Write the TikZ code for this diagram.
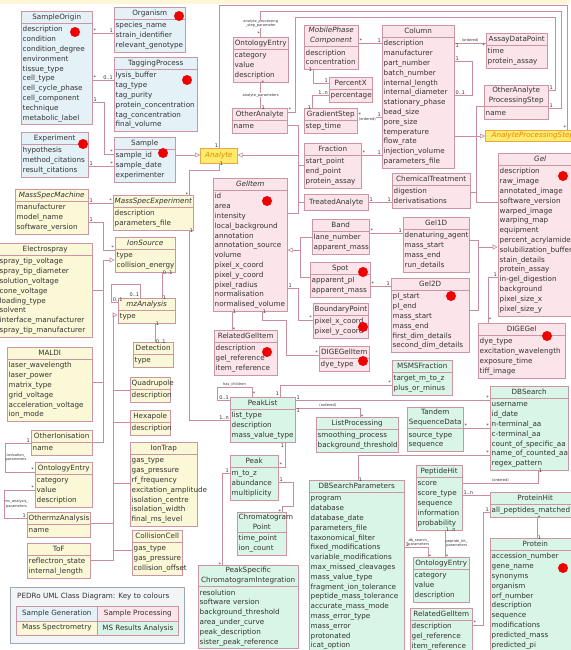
\documentclass[tikz,border=0pt]{standalone}
\usepackage{fontspec}
\setmainfont{DejaVu Sans}
\usetikzlibrary{arrows.meta,fit,backgrounds,positioning}

\definecolor{sgfill}{HTML}{E4F1F7}
\definecolor{spfill}{HTML}{FBE5EA}
\definecolor{msfill}{HTML}{FAF8D6}
\definecolor{mrfill}{HTML}{D9F5E7}
\definecolor{clsline}{HTML}{CB95A3}
\definecolor{linec}{HTML}{C98D9E}
\definecolor{textc}{HTML}{333333}
\definecolor{absfill}{HTML}{FFEB6E}
\definecolor{absline}{HTML}{EBA64A}
\definecolor{abstext}{HTML}{E58A00}
\definecolor{topband}{HTML}{FDF7D5}
\definecolor{keyfill}{HTML}{F2F4F6}
\definecolor{keyline}{HTML}{9CA9B5}
\definecolor{dotred}{HTML}{F00000}

\newcommand\clsfont{\fontsize{7.2}{9.8}\selectfont\hyphenpenalty=10000\relax}
\newcommand\multfont{\fontsize{5}{5.5}\selectfont}
\newcommand\rolefont{\fontsize{3.6}{4.1}\selectfont}

% #1 name, #2 colour style, #3 x, #4 y, #5 width, #6 title, #7 attributes
\newcommand\umlclass[7]{%
  \pgfmathsetmacro\clswidth{#5-3}%
  \node[clstitle, text width=\clswidth pt, anchor=north west] (#1-t) at (#3,#4) {#6};
  \node[clsattr, text width=\clswidth pt, anchor=north west] (#1-a) at (#1-t.south west)
    {\rule{0pt}{6.5pt}#7\rule[-2.8pt]{0pt}{0pt}};
  \begin{pgfonlayer}{background}
    \node[#2, fit=(#1-t)(#1-a)] (#1) {};
  \end{pgfonlayer}
  \draw[#2, fill=none] (#1-t.south west) -- (#1-t.south east);
}

\begin{document}
\begin{tikzpicture}[x=1pt,y=-1pt,
  cls/.style={draw=clsline,line width=0.6pt,inner sep=0pt},
  sg/.style={cls,fill=sgfill},
  sp/.style={cls,fill=spfill},
  ms/.style={cls,fill=msfill},
  mr/.style={cls,fill=mrfill},
  clstitle/.style={inner xsep=1.5pt,inner ysep=2.2pt,minimum height=12pt,align=center,font=\clsfont,text=textc},
  clsattr/.style={inner xsep=1.5pt,inner ysep=1.75pt,align=left,font=\clsfont,text=textc},
  abstract/.style={draw=absline,fill=absfill,line width=0.7pt,font=\clsfont\itshape,text=abstext,inner sep=1pt,anchor=north west},
  assoc/.style={draw=linec,line width=0.6pt},
  gen/.style={assoc,-{Triangle[open,length=5pt,width=5pt]}},
  mult/.style={font=\multfont,text=textc,inner sep=0.6pt},
  role/.style={font=\rolefont,text=textc,align=center,inner sep=0.4pt,fill=white},
  keycell/.style={draw=clsline,line width=0.6pt,minimum width=81pt,minimum height=14.5pt,anchor=north west,font=\clsfont,text=textc,inner sep=0pt},
  reddot/.style={fill=dotred}]

  \useasboundingbox (0,0) rectangle (570,650);
  \begin{pgfonlayer}{background}
    \fill[white] (0,0) rectangle (570,650);
    \fill[topband] (0,0) rectangle (570,4);
  \end{pgfonlayer}

  % sample generation
  \umlclass{SampleOrigin}{sg}{21}{11}{71}{SampleOrigin}{description\\condition\\condition\_degree\\environment\\tissue\_type\\cell\_type\\cell\_cycle\_phase\\cell\_component\\technique\\metabolic\_label}
  \umlclass{Organism}{sg}{114}{7}{71}{Organism}{species\_name\\strain\_identifier\\relevant\_genotype}
  \umlclass{TaggingProcess}{sg}{114}{57}{83}{TaggingProcess}{lysis\_buffer\\tag\_type\\tag\_purity\\protein\_concentration\\tag\_concentration\\final\_volume}
  \umlclass{Experiment}{sg}{21}{132}{67}{Experiment}{hypothesis\\method\_citations\\result\_citations}
  \umlclass{Sample}{sg}{114}{137}{61}{Sample}{sample\_id\\sample\_date\\experimenter}

  % sample processing
  \node[abstract, minimum width=37pt, minimum height=15pt] (Analyte) at (200,148) {Analyte};
  \node[abstract, minimum width=95pt, minimum height=11pt] (ProcessingStep) at (485,130) {AnalyteProcessingStep};
  \umlclass{OntoAnalyte}{sp}{233}{37}{55}{OntologyEntry}{category\\value\\description}
  \umlclass{OtherAnalyte}{sp}{232}{108}{55}{OtherAnalyte}{name}
  \umlclass{MobilePhase}{sp}{304}{25}{54}{\textit{MobilePhase}\\\textit{Component}}{description\\concentration}
  \umlclass{PercentX}{sp}{329}{77}{43}{PercentX}{percentage}
  \umlclass{GradientStep}{sp}{304}{108}{53}{GradientStep}{step\_time}
  \umlclass{Fraction}{sp}{304}{143}{57}{Fraction}{start\_point\\end\_point\\protein\_assay}
  \node[sp, minimum width=64pt, minimum height=16pt, anchor=north west, font=\clsfont, text=textc] (TreatedAnalyte) at (304,194) {TreatedAnalyte};
  \umlclass{Column}{sp}{382}{25}{72}{Column}{description\\manufacturer\\part\_number\\batch\_number\\internal\_length\\internal\_diameter\\stationary\_phase\\bead\_size\\pore\_size\\temperature\\flow\_rate\\injection\_volume\\parameters\_file}
  \umlclass{AssayPoint}{sp}{486}{33}{61}{AssayDataPoint}{time\\protein\_assay}
  \umlclass{OtherStep}{sp}{484}{85}{64}{OtherAnalyte\\ProcessingStep}{name}
  \umlclass{ChemTreatment}{sp}{392}{173}{78}{ChemicalTreatment}{digestion\\derivatisations}
  \umlclass{GelItem}{sp}{213}{178}{74}{\textit{GelItem}}{id\\area\\intensity\\local\_background\\annotation\\annotation\_source\\volume\\pixel\_x\_coord\\pixel\_y\_coord\\pixel\_radius\\normalisation\\normalised\_volume}
  \umlclass{Band}{sp}{312}{219}{57}{Band}{lane\_number\\apparent\_mass}
  \umlclass{Spot}{sp}{310}{262}{60}{Spot}{apparent\_pI\\apparent\_mass}
  \umlclass{BoundaryPoint}{sp}{313}{303}{55}{BoundaryPoint}{pixel\_x\_coord\\pixel\_y\_coord}
  \umlclass{GelOneD}{sp}{403}{217}{66}{Gel1D}{denaturing\_agent\\mass\_start\\mass\_end\\run\_details}
  \umlclass{GelTwoD}{sp}{391}{278}{78}{Gel2D}{pI\_start\\pI\_end\\mass\_start\\mass\_end\\first\_dim\_details\\second\_dim\_details}
  \umlclass{Gel}{sp}{498}{153}{84}{\textit{Gel}}{description\\raw\_image\\annotated\_image\\software\_version\\warped\_image\\warping\_map\\equipment\\percent\_acrylamide\\solubilization\_buffer\\stain\_details\\protein\_assay\\in-gel\_digestion\\background\\pixel\_size\_x\\pixel\_size\_y}
  \umlclass{DIGEGel}{sp}{478}{323}{87}{DIGEGel}{dye\_type\\excitation\_wavelength\\exposure\_time\\tiff\_image}
  \umlclass{RelatedItem}{sp}{214}{330}{63}{RelatedGelItem}{description\\gel\_reference\\item\_reference}
  \umlclass{DIGEItem}{sp}{319}{346}{50}{DIGEGelItem}{dye\_type}

  % mass spectrometry
  \umlclass{MSMachine}{ms}{15}{189}{73}{\textit{MassSpecMachine}}{manufacturer\\model\_name\\software\_version}
  \umlclass{MSExperiment}{ms}{113}{195}{80}{\textit{MassSpecExperiment}}{description\\parameters\_file}
  \umlclass{IonSource}{ms}{115}{237}{60}{\textit{IonSource}}{type\\collision\_energy}
  \umlclass{Electrospray}{ms}{-2}{243}{94}{Electrospray}{spray\_tip\_voltage\\spray\_tip\_diameter\\solution\_voltage\\cone\_voltage\\loading\_type\\solvent\\interface\_manufacturer\\spray\_tip\_manufacturer}
  \umlclass{MzAnalysis}{ms}{118}{298}{57}{\textit{mzAnalysis}}{type}
  \umlclass{Detection}{ms}{133}{342}{40}{Detection}{type}
  \umlclass{MALDI}{ms}{7}{347}{85}{MALDI}{laser\_wavelength\\laser\_power\\matrix\_type\\grid\_voltage\\acceleration\_voltage\\ion\_mode}
  \umlclass{Quadrupole}{ms}{130}{377}{40}{Quadrupole}{description}
  \umlclass{Hexapole}{ms}{130}{410}{40}{Hexapole}{description}
  \umlclass{OtherIonisation}{ms}{31}{430}{61}{OtherIonisation}{name}
  \umlclass{IonTrap}{ms}{130}{442}{67}{IonTrap}{gas\_type\\gas\_pressure\\rf\_frequency\\excitation\_amplitude\\isolation\_centre\\isolation\_width\\final\_ms\_level}
  \umlclass{OntoMS}{ms}{35}{462}{57}{OntologyEntry}{category\\value\\description}
  \umlclass{OtherMz}{ms}{27}{512}{63}{OthermzAnalysis}{name}
  \umlclass{ToF}{ms}{27}{543}{63}{ToF}{reflectron\_state\\internal\_length}
  \umlclass{CollisionCell}{ms}{132}{530}{50}{CollisionCell}{gas\_type\\gas\_pressure\\collision\_offset}

  % ms results analysis
  \umlclass{PeakList}{mr}{230}{397}{65}{PeakList}{list\_type\\description\\mass\_value\_type}
  \umlclass{ListProcessing}{mr}{316}{417}{82}{ListProcessing}{smoothing\_process\\background\_threshold}
  \umlclass{MSMSFraction}{mr}{392}{360}{60}{MSMSFraction}{target\_m\_to\_z\\plus\_or\_minus}
  \umlclass{DBSearch}{mr}{490}{386}{78}{DBSearch}{username\\id\_date\\n-terminal\_aa\\c-terminal\_aa\\count\_of\_specific\_aa\\name\_of\_counted\_aa\\regex\_pattern}
  \umlclass{TandemData}{mr}{407}{407}{56}{Tandem\\SequenceData}{source\_type\\sequence}
  \umlclass{Peak}{mr}{230}{455}{48}{Peak}{m\_to\_z\\abundance\\multiplicity}
  \umlclass{ChromPoint}{mr}{237}{512}{49}{Chromatogram\\Point}{time\_point\\ion\_count}
  \umlclass{PeakIntegration}{mr}{198}{565}{100}{PeakSpecific\\ChromatogramIntegration}{resolution\\software version\\background\_threshold\\area\_under\_curve\\peak\_description\\sister\_peak\_reference}
  \umlclass{DBParams}{mr}{309}{480}{95}{DBSearchParameters}{program\\database\\database\_date\\parameters\_file\\taxonomical\_filter\\fixed\_modifications\\variable\_modifications\\max\_missed\_cleavages\\mass\_value\_type\\fragment\_ion\_tolerance\\peptide\_mass\_tolerance\\accurate\_mass\_mode\\mass\_error\_type\\mass\_error\\protonated\\icat\_option}
  \umlclass{PeptideHit}{mr}{416}{465}{46}{PeptideHit}{score\\score\_type\\sequence\\information\\probability}
  \umlclass{ProteinHit}{mr}{490}{492}{90}{ProteinHit}{all\_peptides\_matched}
  \umlclass{OntoResults}{mr}{413}{557}{56}{OntologyEntry}{category\\value\\description}
  \umlclass{Protein}{mr}{490}{538}{90}{Protein}{accession\_number\\gene\_name\\synonyms\\organism\\orf\_number\\description\\sequence\\modifications\\predicted\_mass\\predicted\_pi}
  \umlclass{RelatedItemR}{mr}{410}{608}{62}{RelatedGelItem}{description\\gel\_reference\\item\_reference}

  % key
  \node[draw=keyline, fill=keyfill, line width=0.8pt, minimum width=174pt, minimum height=56pt, anchor=north west] (Key) at (10,587) {};
  \node[anchor=west, font=\clsfont, text=textc, inner sep=0pt] (KeyTitle) at (17,597) {PEDRo UML Class Diagram: Key to colours};
  \node[keycell, fill=sgfill] (KeySG) at (16,606) {Sample Generation};
  \node[keycell, fill=spfill] (KeySP) at (97,606) {Sample Processing};
  \node[keycell, fill=msfill] (KeyMS) at (16,620.5) {Mass Spectrometry};
  \node[keycell, fill=mrfill] (KeyMR) at (97,620.5) {MS Results Analysis};

  % sample generation links
  \draw[assoc] (SampleOrigin.east |- 0,33) -- node[mult,at start,above right]{*} node[mult,at end,above left]{1} (Organism.west |- 0,33);
  \draw[assoc] (SampleOrigin.east |- 0,80) -- node[mult,at start,above right]{*} node[mult,at end,above left]{0..1} (TaggingProcess.west |- 0,80);
  \draw[assoc] (SampleOrigin.east |- 0,102) -- node[mult,at start,above right]{1} (104,102) -- (104,154) -- node[mult,at end,above left]{*} (Sample.west |- 0,154);
  \draw[assoc] (Experiment.east |- 0,166) -- node[mult,at start,above right]{1} node[mult,at end,above left]{*} (Sample.west |- 0,166);
  \draw[gen] (Sample.east |- 0,155) -- (Analyte.west |- 0,155);

  % analyte subclasses
  \coordinate (AnalyteJoin) at (298,155);
  \draw[assoc] (OtherAnalyte.east |- 0,125) -- (298,125) -- (298,213) -- (GelItem.east |- 0,213);
  \draw[gen] (AnalyteJoin) -- (Analyte.east |- AnalyteJoin);
  \draw[assoc] (298,165) -- (Fraction.west |- 0,165);
  \draw[assoc] (298,202) -- (TreatedAnalyte.west |- 0,202);

  % analyte and processing steps
  \draw[assoc] (Analyte.north) -- node[mult,at start,above left]{1} (Analyte.north |- 0,5) -- (567,5) -- node[mult,at end,above left]{*} (ProcessingStep.north -| 567,0);
  \draw[assoc] (OntoAnalyte.north) -- node[mult,at start,above left]{*} node[role,pos=0.5]{analyte\_processing\\\_step\_parameter} (OntoAnalyte.north |- 0,11) -- (561,11) -- (561,108) -- node[mult,at end,above right]{1} (OtherStep.east |- 0,108);
  \draw[assoc] (OtherAnalyte.east |- 0,112) -- node[mult,at start,above right]{*} (295,112) -- (295,17) -- (555,17) -- (555,90) -- node[mult,at end,above right]{1} (OtherStep.east |- 0,90);
  \draw[assoc] (OntoAnalyte.south) -- node[mult,at start,right]{*} node[role,pos=0.5]{analyte\_parameters} node[mult,at end,right]{1} (OtherAnalyte.north -| OntoAnalyte.south);

  % column
  \draw[assoc] (MobilePhase.east |- 0,43) -- node[mult,at start,above right]{*} node[mult,at end,above left]{1} (Column.west |- 0,43);
  \draw[assoc] (MobilePhase.south -| 313,0) -- node[mult,at start,left]{1} (313,83) -- node[mult,at end,above left]{1} (PercentX.west |- 0,83);
  \draw[assoc] (PercentX.west |- 0,95) -- node[mult,at start,above left]{1..n} (312,95) -- node[mult,at end,left]{1} (GradientStep.north -| 312,0);
  \draw[assoc] (GradientStep.east |- 0,117) -- node[mult,at start,above right]{*} node[role,below,pos=0.4]{(ordered)} node[mult,at end,above left]{1} (Column.west |- 0,117);
  \draw[assoc] (Fraction.east |- 0,155) -- node[mult,at start,above right]{*} node[mult,at end,above left]{1} (Column.west |- 0,155);
  \draw[assoc] (TreatedAnalyte.east |- 0,202) -- node[mult,at start,above right]{1} node[mult,at end,above left]{1} (ChemTreatment.west |- 0,202);
  \draw[assoc] (Column.east |- 0,43) -- node[mult,at start,below right]{1} node[role,above,pos=0.5]{(ordered)} node[mult,at end,below left]{*} (AssayPoint.west |- 0,43);
  \draw[assoc] (Column.east |- 0,61) -- node[mult,at start,above right]{1} (472,61) -- (472,95) -- node[mult,at end,above right]{0..1} (Column.east |- 0,95);

  % processing step subclasses
  \draw[assoc] (OtherStep.west |- 0,106) -- (476,106) -- (476,202) -- (Gel.west |- 0,202);
  \draw[assoc] (ChemTreatment.east |- 0,192) -- (476,192);
  \draw[gen] (Column.east |- 0,136) -- (ProcessingStep.west |- 0,136);

  % gels and gel items
  \draw[assoc] (Band.west |- 0,237) -- (300,237) -- (300,277) -- (Spot.west |- 0,277);
  \draw[gen] (300,250) -- (GelItem.east |- 0,250);
  \draw[assoc] (GelItem.east |- 0,288) -- node[mult,at start,above right]{1} (298,288) -- (298,320) -- node[mult,at end,above left]{*} (BoundaryPoint.west |- 0,320);
  \draw[assoc] (Band.east |- 0,233) -- node[mult,at start,above right]{*} node[mult,at end,above left]{1} (GelOneD.west |- 0,233);
  \draw[assoc] (Spot.east |- 0,286) -- node[mult,at start,above right]{*} node[mult,at end,above left]{1} (GelTwoD.west |- 0,286);
  \draw[assoc] (GelOneD.east |- 0,240) -- (478,240) -- (478,310) -- (GelTwoD.east |- 0,310);
  \draw[gen] (478,247) -- (Gel.west |- 0,247);
  \draw[assoc] (Gel.west |- 0,277) -- node[mult,at start,above left]{1} (488,277) -- node[mult,at end,above right]{*} (DIGEGel.north -| 488,0);
  \draw[assoc] (GelItem.south -| 232,0) -- node[mult,at start,right]{1} node[mult,at end,right]{*} (RelatedItem.north -| 232,0);
  \draw[assoc] (GelItem.south -| 262,0) -- node[mult,at start,right]{1} (262,320) -- (286,320) -- (286,355) -- node[mult,at end,above left]{*} (DIGEItem.west |- 0,355);

  % mass spec experiment
  \draw[assoc] (Analyte.south) -- node[mult,at start,right]{1} (Analyte.south |- 0,170) -- (189,170) -- node[mult,at end,left]{*} (MSExperiment.north -| 189,0);
  \draw[assoc] (MSExperiment.south -| 189,0) -- node[mult,at start,right]{1} (189,420) -- node[mult,at end,above left]{1..n} (PeakList.west |- 0,420);
  \draw[assoc] (MSMachine.east |- 0,203) -- node[mult,at start,above right]{1} node[mult,at end,above left]{*} (MSExperiment.west |- 0,203);
  \draw[assoc] (MSMachine.east |- 0,222) -- node[mult,at start,above right]{1} (103,222) -- (103,250) -- node[mult,at end,above left]{*} (IonSource.west |- 0,250);

  % ion sources
  \draw[gen] (103,260) -- (IonSource.west |- 0,260);
  \draw[assoc] (103,260) -- (103,442) -- (OtherIonisation.east |- 0,442);
  \draw[assoc] (Electrospray.east |- 0,290) -- (103,290);
  \draw[assoc] (MALDI.east |- 0,382) -- (103,382);
  \draw[assoc] (IonSource.south -| 162,0) -- node[mult,at start,right]{0..1} node[mult,at end,right]{1} (MzAnalysis.north -| 162,0);

  % analysers
  \draw[assoc] (MzAnalysis.north -| 140,0) -- node[mult,at start,above left]{0..1} (140,284) -- (111,284) -- (111,302) -- node[mult,at end,above]{0..1} (MzAnalysis.west |- 0,302);
  \draw[gen] (113,315) -- (MzAnalysis.west |- 0,315);
  \draw[assoc] (113,315) -- (113,560) -- (ToF.east |- 0,560);
  \draw[assoc] (113,390) -- (Quadrupole.west |- 0,390);
  \draw[assoc] (113,422) -- (Hexapole.west |- 0,422);
  \draw[assoc] (113,483) -- (IonTrap.west |- 0,483);
  \draw[assoc] (OtherMz.east |- 0,523) -- (113,523);
  \draw[assoc] (113,550) -- (CollisionCell.west |- 0,550);
  \draw[assoc] (MzAnalysis.south -| 155,0) -- node[mult,at start,right]{1} node[mult,at end,right]{0..1} (Detection.north -| 155,0);

  % parameters
  \draw[assoc] (OtherIonisation.west |- 0,443) -- node[mult,at start,above left]{1} (5,443) -- node[role,right,pos=0.5,fill=none]{ionisation\_\\parameters} (5,472) -- node[mult,at end,above left]{*} (OntoMS.west |- 0,472);
  \draw[assoc] (OntoMS.west |- 0,490) -- node[mult,at start,above left]{*} (4,490) -- node[role,right,pos=0.5,fill=none]{ms\_analysis\_\\parameters} (4,518) -- node[mult,at end,above left]{1} (OtherMz.west |- 0,518);

  % peak lists
  \draw[assoc] (PeakList.north -| 252,0) -- node[mult,at start,above right]{*} (252,387) -- node[role,above,pos=0.5,fill=none]{has\_children} (217,387) -- (217,400) -- node[mult,at end,above left]{0..1} (PeakList.west |- 0,400);
  \draw[assoc] (PeakList.north -| 280,0) -- node[mult,at start,above left]{1} (280,385) -- node[mult,at end,above left]{*} (MSMSFraction.west |- 0,385);
  \draw[assoc] (PeakList.east |- 0,400) -- node[mult,at start,above right]{1} node[mult,at end,above left]{*} (DBSearch.west |- 0,400);
  \draw[assoc] (PeakList.east |- 0,408) -- node[mult,at start,below right]{1} node[role,above,pos=0.5,fill=none]{(ordered)} (360,408) -- node[mult,at end,right]{*} (ListProcessing.north -| 360,0);
  \draw[assoc] (PeakList.south -| 285,0) -- node[mult,at start,below left]{1} (285,467) -- node[mult,at end,above right]{*} (Peak.east |- 0,467);
  \draw[assoc] (Peak.west |- 0,473) -- node[mult,at start,above left]{1} (222,473) -- node[mult,at end,left]{*} (PeakIntegration.north -| 222,0);
  \draw[assoc] (Peak.east |- 0,482) -- node[mult,at start,above right]{1} (293,482) -- (293,506) -- (282,506) -- node[mult,at end,left]{*} (ChromPoint.north -| 282,0);

  % searches
  \draw[assoc] (DBParams.north -| 358,0) -- node[mult,at start,right]{1} (358,455) -- node[mult,at end,above left]{*} (DBSearch.west |- 0,455);
  \draw[assoc] (TandemData.east |- 0,428) -- node[mult,at start,above right]{*} node[mult,at end,above left]{*} (DBSearch.west |- 0,428);
  \draw[assoc] (PeptideHit.east |- 0,483) -- node[role,above,pos=0.5,fill=none]{(ordered)} (538,483) -- node[mult,at end,right]{1} (DBSearch.south -| 538,0);
  \draw[assoc] (PeptideHit.east |- 0,495) -- node[mult,at start,above right]{1..n} (ProteinHit.west |- 0,495);
  \draw[assoc] (ProteinHit.south -| 537,0) -- node[mult,at start,right]{*} node[mult,at end,right]{1} (Protein.north -| 537,0);
  \draw[assoc] (ProteinHit.west |- 0,512) -- node[mult,at start,above left]{1} (483,512) -- (483,625) -- node[mult,at end,above right]{*} (RelatedItemR.east |- 0,625);
  \draw[assoc] (DBParams.east |- 0,547) -- node[mult,at start,above right]{1} node[role,above,pos=0.6,fill=none]{db\_search\_\\parameters} (428,547) -- node[mult,at end,right]{*} (OntoResults.north -| 428,0);
  \draw[assoc] (PeptideHit.south -| 445,0) -- node[mult,at start,right]{1..n} node[role,right,pos=0.5,fill=none]{peptide\_hit\_\\parameters} node[mult,at end,right]{*} (OntoResults.north -| 445,0);

  % marks
  \foreach \x/\y in {75/32,179/16,187/80,83/144,163/153,267/201,563/176,363/272,451/296,363/327,267/352,363/361,547/336,563/568}
    \fill[reddot] (\x,\y) circle (5pt);
\end{tikzpicture}
\end{document}
